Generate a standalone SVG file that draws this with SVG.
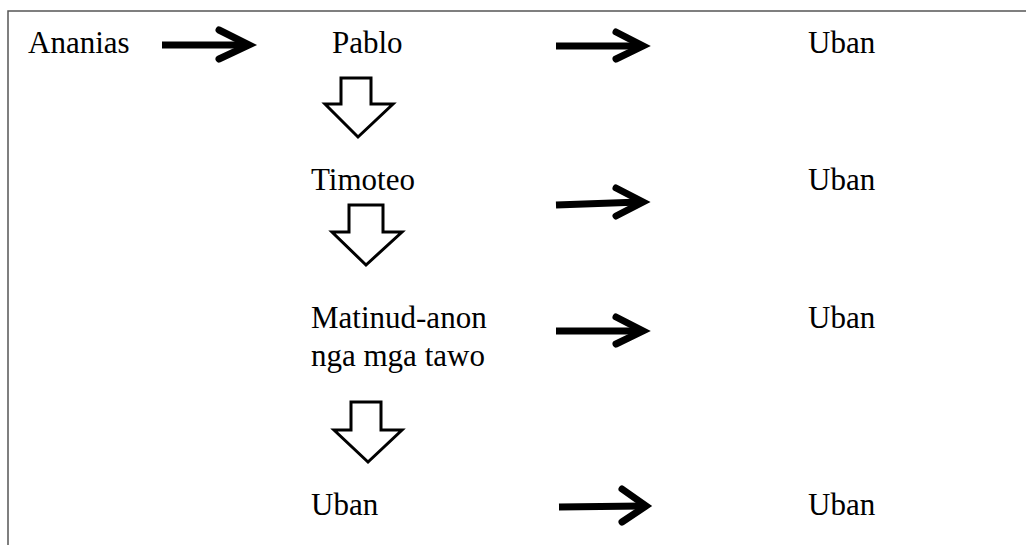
<svg xmlns="http://www.w3.org/2000/svg" width="1026" height="545" viewBox="0 0 1026 545">
<style>
.t{font-family:"Liberation Serif","Times New Roman",serif;font-size:31px;fill:#000}
.shaft{stroke:#000;stroke-width:7;fill:none;stroke-linecap:butt}
.head{stroke:#000;stroke-width:7;fill:none;stroke-linecap:round;stroke-linejoin:miter}
.block{stroke:#000;stroke-width:3;fill:#fff;stroke-linejoin:miter}
.frame{stroke:#555;stroke-width:1.5;fill:none}
</style>
<rect width="1026" height="545" fill="#fff"/>
<path class="frame" d="M8,545 V11 H1026"/>
<g id="n-ananias"><text class="t" x="28" y="53">Ananias</text></g>
<g id="n-pablo"><text class="t" x="332" y="53">Pablo</text></g>
<g id="n-uban1"><text class="t" x="808" y="53">Uban</text></g>
<g id="n-timoteo"><text class="t" x="311" y="190">Timoteo</text></g>
<g id="n-uban2"><text class="t" x="808" y="190">Uban</text></g>
<g id="n-matinud"><text class="t" x="311" y="328">Matinud-anon</text><text class="t" x="311" y="366">nga mga tawo</text></g>
<g id="n-uban3"><text class="t" x="808" y="328">Uban</text></g>
<g id="n-uban4"><text class="t" x="311" y="515">Uban</text></g>
<g id="n-uban5"><text class="t" x="808" y="515">Uban</text></g>
<g id="connectors">
<line class="shaft" x1="162" y1="45" x2="246" y2="45"/>
<polyline class="head" points="219,30 249,45 219,59"/>
<line class="shaft" x1="556" y1="46" x2="640" y2="46"/>
<polyline class="head" points="616,32 643,46 616,59"/>
<line class="shaft" x1="556" y1="205" x2="640" y2="202"/>
<polyline class="head" points="616,188 643,202 616,216"/>
<line class="shaft" x1="556" y1="331" x2="640" y2="331"/>
<polyline class="head" points="616,317 643,331 616,344"/>
<line class="shaft" x1="559" y1="507" x2="642" y2="506"/>
<polyline class="head" points="622,489 646,506 622,522"/>
<polygon class="block" points="341,78 371,78 371,104 393,104 358,137 325,104 341,104"/>
<polygon class="block" points="349,205 383,205 383,232 402,232 366,265 332,232 349,232"/>
<polygon class="block" points="351,402 381,402 381,430 402,430 368,462 334,430 351,430"/>
</g>
</svg>
